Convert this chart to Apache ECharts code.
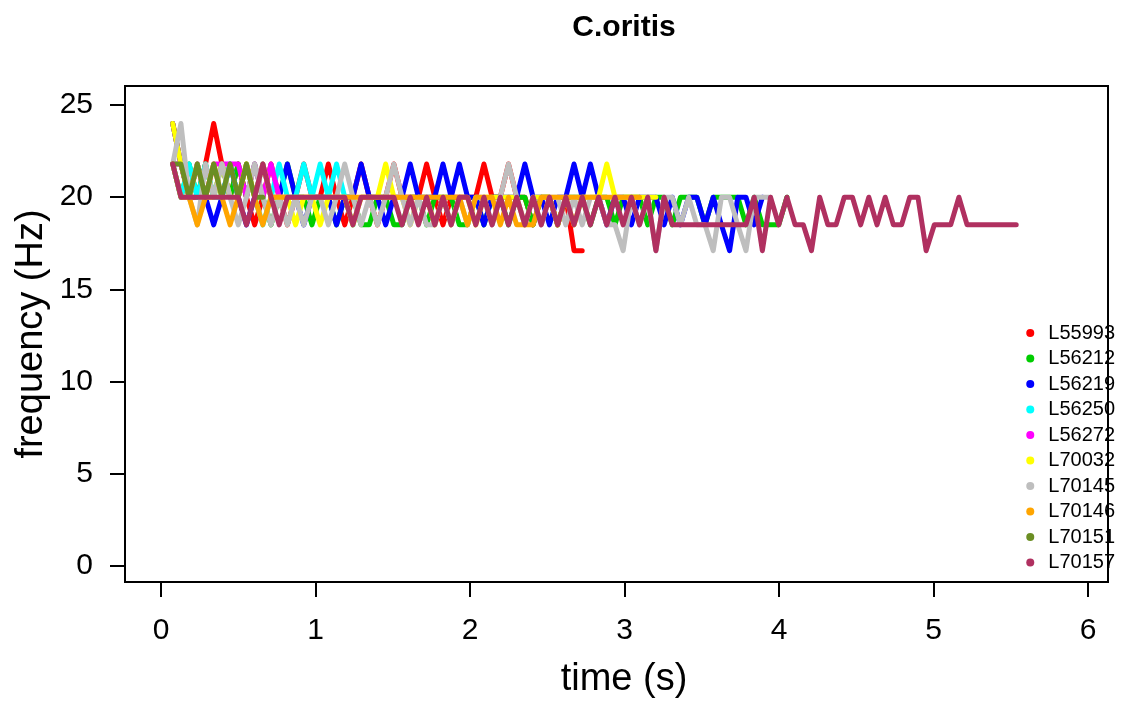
<!DOCTYPE html>
<html>
<head>
<meta charset="utf-8">
<script src="https://cdn.jsdelivr.net/npm/echarts@6/dist/echarts.min.js"></script>
<style>
html,body{margin:0;padding:0;background:#fff;}
#chart{width:1124px;height:704px;}
</style>
</head>
<body>
<div id="chart"></div>
<script>
// frame times (s)
const times = [0.076,0.129,0.182,0.235,0.288,0.341,0.394,0.447,0.500,0.553,
0.606,0.659,0.712,0.765,0.818,0.871,0.924,0.977,1.030,1.083,
1.136,1.189,1.242,1.295,1.348,1.401,1.454,1.507,1.560,1.613,
1.666,1.719,1.772,1.825,1.878,1.931,1.984,2.037,2.090,2.143,
2.196,2.249,2.302,2.355,2.408,2.461,2.514,2.567,2.620,2.673,
2.726,2.779,2.832,2.885,2.938,2.991,3.044,3.097,3.150,3.203,
3.256,3.309,3.362,3.415,3.468,3.521,3.574,3.627,3.680,3.733,
3.786,3.839,3.892,3.945,3.998,4.051,4.104,4.157,4.210,4.263,
4.316,4.369,4.422,4.475,4.528,4.581,4.634,4.687,4.740,4.793,
4.846,4.899,4.952,5.005,5.058,5.111,5.164,5.217,5.270,5.323,
5.376,5.429,5.482,5.535];

const seriesNames = ["L55993","L56212","L56219","L56250","L56272","L70032","L70145","L70146","L70151","L70157"];
const seriesColors = ["#FF0000","#00CD00","#0000FF","#00FFFF","#FF00FF","#FFFF00","#BEBEBE","#FFA500","#6B8E23","#B03060"];

const fL55993 = [24,21.8,20,20,21.8,24,21.8,20,21.8,20,18.5,20,21.8,20,18.5,20,21.8,20,20,21.8,
20,18.5,20,21.8,20,18.5,20,21.8,20,20,20,21.8,20,18.5,20,20,20,20,21.8,20,
20,21.8,20,20,18.5,20,20,18.5,20,17.1,17.1];
const fL56212 = [21.8,20,21.8,20,21.8,20,21.8,20,21.8,20,21.8,20,18.5,20,21.8,20,20,18.5,20,20,
18.5,20,20,18.5,18.5,20,20,18.5,18.5,20,20,18.5,20,20,20,18.5,18.5,20,18.5,20,
20,18.5,20,20,18.5,20,20,18.5,20,20,20,18.5,20,20,18.5,20,20,20,18.5,20,
20,18.5,20,20,20,18.5,20,20,20,20,18.5,20,18.5,18.5,18.5,20];
const fL56219 = [24,21.8,20,21.8,20,18.5,20,21.8,20,18.5,20,21.8,20,20,21.8,20,18.5,20,20,20,
18.5,20,20,21.8,20,20,18.5,20,20,21.8,20,20,20,21.8,20,21.8,20,20,18.5,20,
20,20,20,21.8,20,20,18.5,20,20,21.8,20,21.8,20,18.5,20,20,18.5,20,20,20,
18.5,20,18.5,20,20,18.5,20,18.5,17.1,20,20,18.5,20];
const fL56250 = [21.8,20,21.8,20,21.8,20,20,21.8,20,21.8,20,18.5,20,21.8,20,20,21.8,20,21.8,20,
21.8,20,18.5];
const fL56272 = [21.8,21.8,20,21.8,20,21.8,21.8,21.8,21.8,20,21.8,20,21.8,20,20];
const fL70032 = [24,21.8,20,21.8,20,20,21.8,20,20,21.8,20,21.8,20,20,20,18.5,20,20,18.5,20,
20,20,18.5,20,20,20,21.8,20,20,18.5,20,20,18.5,20,18.5,20,20,18.5,20,20,
20,20,20,18.5,20,20,20,18.5,20,18.5,20,20,20,21.8,20,20,20,20,20,20];
const fL70145 = [21.8,24,20,18.5,21.8,20,21.8,20,18.5,20,21.8,20,18.5,20,18.5,20,18.5,20,20,18.5,
20,21.8,20,18.5,20,18.5,20,21.8,20,18.5,20,18.5,18.5,20,18.5,20,18.5,20,20,18.5,
20,21.8,20,18.5,20,18.5,20,20,18.5,20,18.5,20,20,18.5,18.5,17.1,20,18.5,20,17.1,
20,20,18.5,20,18.5,18.5,17.1,20,20,18.5,17.1,20,20,20];
const fL70146 = [21.8,20,20,18.5,20,21.8,20,18.5,20,21.8,20,18.5,20,20,20,20,20,20,20,20,
20,20,20,20,20,20,20,20,20,20,20,20,20,20,20,20,18.5,20,20,20,
18.5,20,18.5,18.5,18.5,20,20,20,20,20,20,20,20,20,20,20,20,20];
const fL70151 = [21.8,21.8,20,21.8,20,21.8,20,21.8,20,21.8,20,20];
const fL70157 = [21.8,20,20,20,20,20,20,20,20,18.5,20,21.8,20,18.5,20,20,20,20,20,20,
20,20,18.5,20,20,20,20,20,18.5,20,18.5,20,18.5,20,18.5,20,20,18.5,20,18.5,
20,18.5,20,18.5,20,18.5,20,18.5,20,18.5,20,18.5,20,18.5,20,18.5,20,18.5,20,17.1,
20,18.5,18.5,18.5,18.5,18.5,18.5,18.5,18.5,18.5,18.5,20,17.1,20,18.5,20,18.5,18.5,17.1,20,
18.5,18.5,20,20,18.5,20,18.5,20,18.5,18.5,20,20,17.1,18.5,18.5,18.5,20,18.5,18.5,18.5,
18.5,18.5,18.5,18.5];

const seriesValues = [fL55993,fL56212,fL56219,fL56250,fL56272,fL70032,fL70145,fL70146,fL70151,fL70157];

const xTicks = [0,1,2,3,4,5,6];
const yTicks = [0,5,10,15,20,25];
const xRange = [-0.233, 6.129];
const yRange = [-0.868, 26.03];

const chart = echarts.init(document.getElementById('chart'), null, {renderer:'canvas'});
const FONT = "'Liberation Sans', Arial, sans-serif";

const series = seriesNames.map((name, k) => ({
  name: name,
  type: 'line',
  data: seriesValues[k].map((v, i) => [times[i], v]),
  showSymbol: false,
  symbol: 'none',
  color: seriesColors[k],
  lineStyle: {width: 5, color: seriesColors[k], cap: 'round', join: 'round'},
  emphasis: {disabled: true},
  animation: false
}));

chart.setOption({
  animation: false,
  backgroundColor: '#ffffff',
  title: {
    text: 'C.oritis',
    left: 619, top: 8, textAlign: 'center',
    textStyle: {fontFamily: FONT, fontSize: 30, fontWeight: 'bold', color: '#000'}
  },
  grid: {left: 125, right: 16, top: 86, bottom: 122, containLabel: false},
  xAxis: {
    type: 'value', min: xRange[0], max: xRange[1],
    axisLine: {show: false, onZero: false},
    axisTick: {show: true, length: 15, customValues: xTicks, lineStyle: {color: '#000', width: 2}},
    splitLine: {show: false},
    axisLabel: {fontFamily: FONT, fontSize: 30, color: '#000', margin: 34, customValues: xTicks}
  },
  yAxis: {
    type: 'value', min: yRange[0], max: yRange[1],
    axisLine: {show: false, onZero: false},
    axisTick: {show: true, length: 15, customValues: yTicks, lineStyle: {color: '#000', width: 2}},
    splitLine: {show: false},
    axisLabel: {fontFamily: FONT, fontSize: 30, color: '#000', margin: 32, customValues: yTicks}
  },
  legend: {
    data: seriesNames,
    orient: 'vertical',
    right: 9, top: 323,
    padding: 0,
    icon: 'circle',
    itemWidth: 26, itemHeight: 8,
    itemGap: 5.5,
    selectedMode: false,
    textStyle: {fontFamily: FONT, fontSize: 20, color: '#000', lineHeight: 20}
  },
  graphic: [
    {type: 'rect', shape: {x: 125, y: 86, width: 983, height: 496},
     style: {fill: 'none', stroke: '#000', lineWidth: 2}, z: 100, silent: true},
    {type: 'text', x: 624, y: 680, style: {text: 'time (s)', fontFamily: FONT, fontSize: 38, fill: '#000', textAlign: 'center', textVerticalAlign: 'middle'}},
    {type: 'text', x: 32, y: 334, rotation: Math.PI/2, style: {text: 'frequency (Hz)', fontFamily: FONT, fontSize: 38, fill: '#000', textAlign: 'center', textVerticalAlign: 'middle'}}
  ],
  series: series
});
</script>
</body>
</html>
